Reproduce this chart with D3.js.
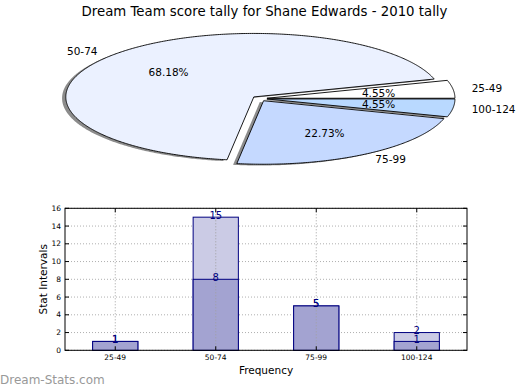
<!DOCTYPE html>
<html><head><meta charset="utf-8">
<script src="https://cdn.jsdelivr.net/npm/d3@7"></script>
<style>body{margin:0;background:#fff} svg{display:block;font-family:"DejaVu Sans",sans-serif}</style>
</head><body><svg id="c" width="520" height="390"></svg>
<script>
const title = "Dream Team score tally for Shane Edwards - 2010 tally";
const categories = ["25-49", "50-74", "75-99", "100-124"];
const pieValues = [1, 15, 5, 1];
const pieColors = ["#ffffff", "#ebf1ff", "#c5d9ff", "#b9d9ff"];
const totalValues = [1, 15, 5, 2];
const subValues = [1, 8, 5, 1];
const yTicks = [0, 2, 4, 6, 8, 10, 12, 14, 16];
const xLabel = "Frequency", yLabel = "Stat Intervals", watermark = "Dream-Stats.com";

const svg = d3.select("#c");

// title
svg.append("text").attr("x", 264.5).attr("y", 15.5).attr("text-anchor", "middle")
  .attr("font-size", 13.3).attr("fill", "#000").text(title);

// ---------- PIE ----------
const cx = 259.5, cy = 98.6, rx = 188, ry = 63.5, explode = 0.04;
const px = d3.scaleLinear().domain([-1, 1]).range([cx - rx, cx + rx]);
const py = d3.scaleLinear().domain([-1, 1]).range([cy + ry, cy - ry]);
const total = d3.sum(pieValues);
let acc = 0;
const slices = pieValues.map((v, i) => {
  const t1 = acc / total * 2 * Math.PI;
  acc += v;
  const t2 = acc / total * 2 * Math.PI;
  const tm = (t1 + t2) / 2;
  return { i, v, t1, t2, tm, ex: explode * Math.cos(tm), ey: explode * Math.sin(tm) };
});
function wedgePts(s, dx, dy) {
  const pts = [[s.ex, s.ey]];
  const n = Math.max(8, Math.ceil((s.t2 - s.t1) / 0.01));
  for (let k = 0; k <= n; k++) {
    const t = s.t1 + (s.t2 - s.t1) * k / n;
    pts.push([s.ex + Math.cos(t), s.ey + Math.sin(t)]);
  }
  pts.push([s.ex, s.ey]);
  return pts.map(p => [p[0] + dx, p[1] + dy]);
}
const line = d3.line().x(d => px(d[0])).y(d => py(d[1]));
const pieG = svg.append("g");
// shadows
pieG.selectAll("path.sh").data(slices).join("path").attr("class", "sh")
  .attr("d", s => line(wedgePts(s, -0.02, -0.02)) + "Z")
  .attr("fill", "#000").attr("fill-opacity", 0.45).attr("stroke", "none");
pieG.selectAll("path.w").data(slices).join("path").attr("class", "w")
  .attr("d", s => line(wedgePts(s, 0, 0)) + "Z")
  .attr("fill", s => pieColors[s.i]).attr("stroke", "#000").attr("stroke-width", 0.9)
  .attr("stroke-linejoin", "miter");
// labels
slices.forEach(s => {
  const lx = s.ex + 1.1 * Math.cos(s.tm), ly = s.ey + 1.1 * Math.sin(s.tm);
  pieG.append("text").attr("x", px(lx)).attr("y", py(ly))
    .attr("text-anchor", lx > 0 ? "start" : "end").attr("dominant-baseline", "central")
    .attr("font-size", 10.5).text(categories[s.i]);
  const qx = s.ex + 0.6 * Math.cos(s.tm), qy = s.ey + 0.6 * Math.sin(s.tm);
  pieG.append("text").attr("x", px(qx)).attr("y", py(qy))
    .attr("text-anchor", "middle").attr("dominant-baseline", "central")
    .attr("font-size", 10.5).text((s.v / total * 100).toFixed(2) + "%");
});

// ---------- BAR ----------
const L = 65, R = 467, T = 208.3, B = 350.3;
const x = d3.scaleLinear().domain([-0.5, categories.length - 0.5]).range([L, R]);
const y = d3.scaleLinear().domain([0, 16]).range([B, T]);
const bw = 0.45;
const g = svg.append("g");
// horizontal grid
g.selectAll("line.hg").data(yTicks).join("line").attr("class", "hg")
  .attr("x1", L).attr("x2", R).attr("y1", d => y(d)).attr("y2", d => y(d))
  .attr("stroke", "#b0b0b0").attr("stroke-dasharray", "1,2").attr("stroke-width", 1);
// bars total (light)
g.selectAll("rect.t").data(totalValues).join("rect").attr("class", "t")
  .attr("x", (d, i) => x(i - bw / 2)).attr("width", x(bw) - x(0))
  .attr("y", d => y(d)).attr("height", d => y(0) - y(d))
  .attr("fill", "#cbcbe5").attr("stroke", "#000080").attr("stroke-width", 1);
g.selectAll("rect.s").data(subValues).join("rect").attr("class", "s")
  .attr("x", (d, i) => x(i - bw / 2)).attr("width", x(bw) - x(0))
  .attr("y", d => y(d)).attr("height", d => y(0) - y(d))
  .attr("fill", "#a3a3d1").attr("stroke", "#000080").attr("stroke-width", 1);
// vertical grid
g.selectAll("line.vg").data(categories).join("line").attr("class", "vg")
  .attr("x1", (d, i) => x(i)).attr("x2", (d, i) => x(i)).attr("y1", T).attr("y2", B)
  .attr("stroke", "#a0a0a0").attr("stroke-dasharray", "1,2").attr("stroke-width", 1);
// value labels
[totalValues, subValues].forEach(arr => {
  g.selectAll(null).data(arr).join("text")
    .attr("x", (d, i) => x(i)).attr("y", d => y(d) + 1.5)
    .attr("text-anchor", "middle").attr("font-size", 10).attr("fill", "#000080")
    .text(d => d);
});
// frame
g.append("rect").attr("x", L).attr("y", T).attr("width", R - L).attr("height", B - T)
  .attr("fill", "none").attr("stroke", "#000").attr("stroke-width", 1);
// ticks
yTicks.forEach(t => {
  g.append("line").attr("x1", L).attr("x2", L + 4).attr("y1", y(t)).attr("y2", y(t)).attr("stroke", "#000");
  g.append("line").attr("x1", R - 4).attr("x2", R).attr("y1", y(t)).attr("y2", y(t)).attr("stroke", "#000");
  g.append("text").attr("x", L - 4).attr("y", y(t)).attr("text-anchor", "end")
    .attr("dominant-baseline", "central").attr("font-size", 7.5).text(t);
});
categories.forEach((c, i) => {
  g.append("line").attr("x1", x(i)).attr("x2", x(i)).attr("y1", B).attr("y2", B - 4).attr("stroke", "#000");
  g.append("line").attr("x1", x(i)).attr("x2", x(i)).attr("y1", T).attr("y2", T + 4).attr("stroke", "#000");
  g.append("text").attr("x", x(i)).attr("y", B + 7).attr("text-anchor", "middle")
    .attr("dominant-baseline", "central").attr("font-size", 7.5).text(c);
});
// axis labels
g.append("text").attr("x", (L + R) / 2).attr("y", 370).attr("text-anchor", "middle")
  .attr("dominant-baseline", "central").attr("font-size", 10.5).text(xLabel);
g.append("text").attr("transform", `translate(43,${(T + B) / 2}) rotate(-90)`)
  .attr("text-anchor", "middle").attr("dominant-baseline", "central")
  .attr("font-size", 10.5).text(yLabel);
// watermark
svg.append("text").attr("x", 0).attr("y", 384).attr("font-size", 12)
  .attr("fill", "#999").text(watermark);
</script></body></html>
